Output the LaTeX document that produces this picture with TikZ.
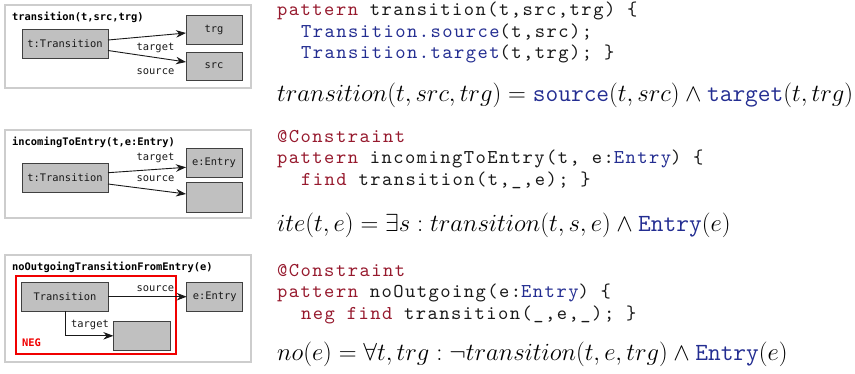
\RequirePackage{fix-cm}
\documentclass[tikz,border=0pt]{standalone}
\usepackage{fontspec}
\usetikzlibrary{arrows.meta}
\newfontfamily\dfont{DejaVu Sans Mono}
\newfontfamily\codefont[LetterSpace=7.5]{lmmono10-regular.otf}
\definecolor{kw}{RGB}{150,25,45}
\definecolor{cb}{RGB}{35,45,145}
\definecolor{boxfill}{RGB}{192,192,192}
\definecolor{boxline}{RGB}{64,64,64}
\definecolor{framec}{RGB}{205,205,205}
\definecolor{txt}{RGB}{25,25,25}
\definecolor{negred}{RGB}{240,0,0}
\tikzset{
 frame/.style={draw=framec, line width=1.3pt, inner sep=0, outer sep=0},
 umlbox/.style={draw=boxline, fill=boxfill, line width=0.9pt, inner sep=0, outer sep=0, text=txt, font=\dfont\fontsize{10.4}{12}\selectfont},
 ptitle/.style={anchor=base west, inner sep=0, text=black, font=\dfont\bfseries\fontsize{10.4}{12}\selectfont},
 elabel/.style={anchor=base, inner sep=0, text=txt, font=\dfont\fontsize{10.4}{12}\selectfont},
 arr/.style={draw=black!90, line width=0.9pt, -{Stealth[length=10pt,width=7.5pt]}},
 negbox/.style={draw=negred, line width=1.6pt, inner sep=0, outer sep=0},
 neglabel/.style={anchor=base west, inner sep=0, text=negred, font=\dfont\bfseries\fontsize{10.4}{12}\selectfont},
 code/.style={anchor=base west, inner sep=0, text=txt, font=\codefont\fontsize{19.6}{24}\selectfont},
 mathline/.style={anchor=base west, inner sep=0, text=black, font=\fontsize{24.7}{29}\selectfont},
}
\begin{document}
\begin{tikzpicture}[x=1pt,y=-1pt]
\useasboundingbox (0,0) rectangle (855,373);
% ---------- panel 1 ----------
\node[frame, minimum width=246pt, minimum height=83pt] (f1) at (128,46.5) {};
\node[ptitle] (h1) at (12,20.7) {transition(t,src,trg)};
\node[umlbox, minimum width=86pt, minimum height=29pt] (t1) at (65,43.5) {t:Transition};
\node[umlbox, minimum width=56pt, minimum height=29pt] (trg1) at (214,29.5) {trg};
\node[umlbox, minimum width=56pt, minimum height=28pt] (src1) at (214,66) {src};
\draw[arr] ([yshift=3.5pt]t1.east) -- ([yshift=-3.5pt]trg1.west);
\draw[arr] ([yshift=-7pt]t1.east) -- ([yshift=4pt]src1.west);
\node[elabel] (l11) at (155.5,50.7) {target};
\node[elabel] (l12) at (155.5,74) {source};
% ---------- panel 2 ----------
\node[frame, minimum width=246pt, minimum height=88pt] (f2) at (128,174) {};
\node[ptitle] (h2) at (12,145.7) {incomingToEntry(t,e:Entry)};
\node[umlbox, minimum width=86pt, minimum height=29pt] (t2) at (65,177.5) {t:Transition};
\node[umlbox, minimum width=56pt, minimum height=29pt] (en2) at (214,162.5) {e:Entry};
\node[umlbox, minimum width=56pt, minimum height=30pt] (em2) at (214,197) {};
\draw[arr] ([yshift=4.8pt]t2.east) -- ([yshift=-4.8pt]en2.west);
\draw[arr] ([yshift=-6.5pt]t2.east) -- ([yshift=3pt]em2.west);
\node[elabel] (l21) at (155.5,160.5) {target};
\node[elabel] (l22) at (155.5,181) {source};
% ---------- panel 3 ----------
\node[frame, minimum width=246pt, minimum height=107pt] (f3) at (128,308.5) {};
\node[ptitle] (h3) at (12,270.7) {noOutgoingTransitionFromEntry(e)};
\node[negbox, minimum width=160pt, minimum height=78.3pt] (neg) at (95.7,314.85) {};
\node[neglabel] (negl) at (22,346.7) {NEG};
\node[umlbox, minimum width=86.6pt, minimum height=28.7pt] (tr3) at (65,296.7) {Transition};
\node[umlbox, minimum width=56pt, minimum height=28.7pt] (en3) at (214.7,296.7) {e:Entry};
\node[umlbox, minimum width=56.7pt, minimum height=29.7pt] (em3) at (141.7,335.8) {};
\draw[arr] (tr3.east) -- (en3.west);
\draw[arr] (tr3.south) |- (em3.west);
\node[elabel] (l31) at (155.3,291.7) {source};
\node[elabel] (l32) at (90,327.5) {target};
% ---------- code, panel 1 ----------
\node[code] (c11) at (277,15.7) {\textcolor{kw}{pattern} transition(t,src,trg) \{};
\node[code] (c12) at (301,37.3) {\textcolor{cb}{Transition.source}(t,src);};
\node[code] (c13) at (301,58.3) {\textcolor{cb}{Transition.target}(t,trg); \}};
\node[mathline] (m1) at (277,101.7) {$transition(t,src,trg) = \textcolor{cb}{\texttt{source}}(t,src) \wedge \textcolor{cb}{\texttt{target}}(t,trg)$};
% ---------- code, panel 2 ----------
\node[code] (c21) at (277,142) {\textcolor{kw}{@Constraint}};
\node[code] (c22) at (277,163.5) {\textcolor{kw}{pattern} incomingToEntry(t, e:\textcolor{cb}{Entry}) \{};
\node[code] (c23) at (301,185) {\textcolor{kw}{find} transition(t,\_,e); \}};
\node[mathline] (m2) at (277,231.7) {$ite(t,e) = \exists s : transition(t,s,e) \wedge \textcolor{cb}{\texttt{Entry}}(e)$};
% ---------- code, panel 3 ----------
\node[code] (c31) at (277,276) {\textcolor{kw}{@Constraint}};
\node[code] (c32) at (277,297.5) {\textcolor{kw}{pattern} noOutgoing(e:\textcolor{cb}{Entry}) \{};
\node[code] (c33) at (301,319) {\textcolor{kw}{neg find} transition(\_,e,\_); \}};
\node[mathline] (m3) at (277,360) {$no(e) = \forall t, trg : \neg transition(t,e,trg) \wedge \textcolor{cb}{\texttt{Entry}}(e)$};
\end{tikzpicture}
\end{document}
